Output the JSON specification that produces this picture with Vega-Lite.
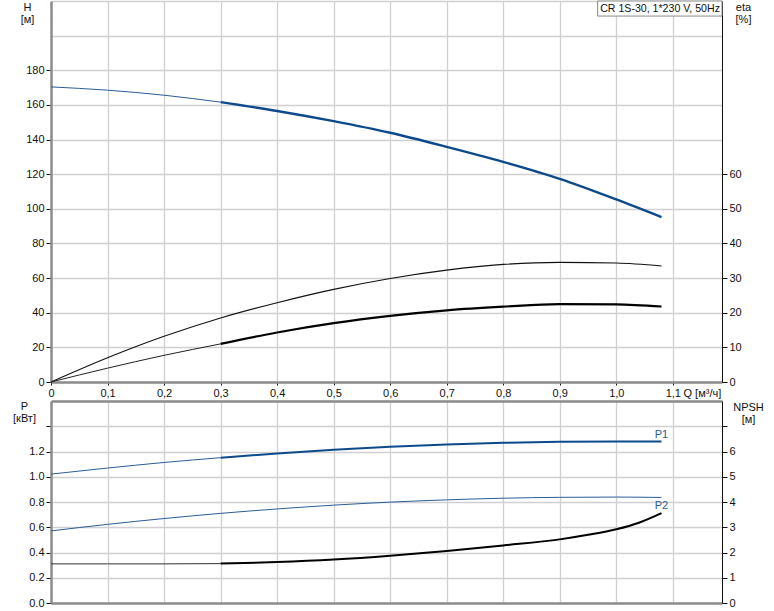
{
  "$schema": "https://vega.github.io/schema/vega-lite/v6.json",
  "padding": {"left": 12, "top": 0, "right": 0, "bottom": 0},
  "autosize": {"type": "pad"},
  "bounds": "flush",
  "spacing": 19,
  "background": "white",
  "config": {
    "view": {"stroke": null},
    "axis": {
      "labelFont": "Liberation Sans", "labelFontSize": 11, "labelColor": "#111111",
      "titleFont": "Liberation Sans", "titleFontSize": 11, "titleFontWeight": "normal", "titleColor": "#111111",
      "gridColor": "#d0d0d0", "gridWidth": 1.3, "tickColor": "#111111"
    },
    "text": {"font": "Liberation Sans", "fontSize": 11}
  },
  "datasets": {
    "pump": [
      {"series": "H", "Q": 0, "value": 170.4}, {"series": "H", "Q": 0.1, "value": 168.5}, {"series": "H", "Q": 0.2, "value": 165.6},
      {"series": "H", "Q": 0.3, "value": 161.6}, {"series": "H", "Q": 0.4, "value": 156.5}, {"series": "H", "Q": 0.5, "value": 150.6},
      {"series": "H", "Q": 0.6, "value": 143.9}, {"series": "H", "Q": 0.7, "value": 135.8}, {"series": "H", "Q": 0.8, "value": 127.1},
      {"series": "H", "Q": 0.9, "value": 117.3}, {"series": "H", "Q": 1.0, "value": 105.4}, {"series": "H", "Q": 1.08, "value": 95.2},
      {"series": "eta1", "Q": 0, "value": 0}, {"series": "eta1", "Q": 0.1, "value": 7.0}, {"series": "eta1", "Q": 0.2, "value": 13.2},
      {"series": "eta1", "Q": 0.3, "value": 18.5}, {"series": "eta1", "Q": 0.4, "value": 22.9}, {"series": "eta1", "Q": 0.5, "value": 26.75},
      {"series": "eta1", "Q": 0.6, "value": 29.9}, {"series": "eta1", "Q": 0.7, "value": 32.3}, {"series": "eta1", "Q": 0.8, "value": 33.95},
      {"series": "eta1", "Q": 0.9, "value": 34.55}, {"series": "eta1", "Q": 1.0, "value": 34.35}, {"series": "eta1", "Q": 1.08, "value": 33.5},
      {"series": "eta2", "Q": 0, "value": 0}, {"series": "eta2", "Q": 0.1, "value": 4.0}, {"series": "eta2", "Q": 0.2, "value": 7.7},
      {"series": "eta2", "Q": 0.3, "value": 11.0}, {"series": "eta2", "Q": 0.4, "value": 14.3}, {"series": "eta2", "Q": 0.5, "value": 17.0},
      {"series": "eta2", "Q": 0.6, "value": 19.1}, {"series": "eta2", "Q": 0.7, "value": 20.7}, {"series": "eta2", "Q": 0.8, "value": 21.75},
      {"series": "eta2", "Q": 0.9, "value": 22.5}, {"series": "eta2", "Q": 1.0, "value": 22.4}, {"series": "eta2", "Q": 1.08, "value": 21.8}
    ],
    "power": [
      {"series": "P1", "Q": 0, "value": 1.021}, {"series": "P1", "Q": 0.1, "value": 1.069}, {"series": "P1", "Q": 0.2, "value": 1.113},
      {"series": "P1", "Q": 0.3, "value": 1.151}, {"series": "P1", "Q": 0.4, "value": 1.185}, {"series": "P1", "Q": 0.5, "value": 1.213},
      {"series": "P1", "Q": 0.6, "value": 1.237}, {"series": "P1", "Q": 0.7, "value": 1.255}, {"series": "P1", "Q": 0.8, "value": 1.269},
      {"series": "P1", "Q": 0.9, "value": 1.277}, {"series": "P1", "Q": 1.0, "value": 1.28}, {"series": "P1", "Q": 1.08, "value": 1.28},
      {"series": "P2", "Q": 0, "value": 0.571}, {"series": "P2", "Q": 0.1, "value": 0.623}, {"series": "P2", "Q": 0.2, "value": 0.669},
      {"series": "P2", "Q": 0.3, "value": 0.71}, {"series": "P2", "Q": 0.4, "value": 0.745}, {"series": "P2", "Q": 0.5, "value": 0.775},
      {"series": "P2", "Q": 0.6, "value": 0.799}, {"series": "P2", "Q": 0.7, "value": 0.817}, {"series": "P2", "Q": 0.8, "value": 0.83},
      {"series": "P2", "Q": 0.9, "value": 0.837}, {"series": "P2", "Q": 1.0, "value": 0.839}, {"series": "P2", "Q": 1.08, "value": 0.836},
      {"series": "NPSH", "Q": 0, "value": 1.55}, {"series": "NPSH", "Q": 0.1, "value": 1.55}, {"series": "NPSH", "Q": 0.2, "value": 1.55},
      {"series": "NPSH", "Q": 0.3, "value": 1.56}, {"series": "NPSH", "Q": 0.4, "value": 1.62}, {"series": "NPSH", "Q": 0.5, "value": 1.72},
      {"series": "NPSH", "Q": 0.6, "value": 1.87}, {"series": "NPSH", "Q": 0.7, "value": 2.06}, {"series": "NPSH", "Q": 0.8, "value": 2.28},
      {"series": "NPSH", "Q": 0.9, "value": 2.52}, {"series": "NPSH", "Q": 0.95, "value": 2.7}, {"series": "NPSH", "Q": 1.0, "value": 2.92},
      {"series": "NPSH", "Q": 1.04, "value": 3.18}, {"series": "NPSH", "Q": 1.08, "value": 3.56}
    ],
    "legend": [{"label": "CR 1S-30, 1*230 V, 50Hz"}]
  },
  "vconcat": [
    {
      "width": 671,
      "height": 381,
      "layer": [
        {
          "data": {"name": "pump"},
          "encoding": {
            "x": {
              "field": "Q", "type": "quantitative",
              "scale": {"domain": [0, 1.187], "nice": false, "zero": false},
              "axis": {
                "values": [0, 0.1, 0.2, 0.3, 0.4, 0.5, 0.6, 0.7, 0.8, 0.9, 1.0, 1.1],
                "labelExpr": "datum.value == 0 ? '0' : replace(format(datum.value, '.1f'), '.', ',')",
                "labelFlush": false, "labelOverlap": false,
                "grid": true, "tickSize": 3, "labelPadding": 2,
                "domainColor": "#8c8c8c", "domainWidth": 2.5,
                "title": "Q [м³/ч]", "titleAngle": 0, "titleAlign": "left", "titleBaseline": "top",
                "titleX": 632, "titleY": 5
              }
            },
            "y": {
              "field": "value", "type": "quantitative",
              "scale": {"domain": [0, 220], "nice": false, "zero": false},
              "axis": {
                "values": [0, 20, 40, 60, 80, 100, 120, 140, 160, 180, 200, 220],
                "labelExpr": "datum.value <= 180 ? datum.label : ''",
                "tickColor": {"condition": {"test": "datum.value > 180", "value": "transparent"}, "value": "#111111"},
                "grid": true, "tickSize": 5, "labelPadding": 2,
                "domainColor": "#8c8c8c", "domainWidth": 2.5,
                "title": ["H", "[м]"], "titleAngle": 0, "titleAlign": "center", "titleBaseline": "top",
                "titleX": -24, "titleY": 0, "titleLineHeight": 12
              }
            }
          },
          "layer": [
            {
              "transform": [{"filter": "datum.series == 'H' && datum.Q <= 0.3"}],
              "mark": {"type": "line", "interpolate": "monotone", "color": "#2a5d95", "strokeWidth": 1}
            },
            {
              "transform": [{"filter": "datum.series == 'H' && datum.Q >= 0.3"}],
              "mark": {"type": "line", "interpolate": "monotone", "color": "#0d4a8c", "strokeWidth": 2.4}
            }
          ]
        },
        {
          "data": {"name": "pump"},
          "encoding": {
            "x": {
              "field": "Q", "type": "quantitative",
              "scale": {"domain": [0, 1.187], "nice": false, "zero": false}
            },
            "y": {
              "field": "value", "type": "quantitative",
              "scale": {"domain": [0, 110], "nice": false, "zero": false},
              "axis": {
                "orient": "right",
                "values": [0, 10, 20, 30, 40, 50, 60],
                "grid": false, "tickSize": 5, "labelPadding": 2,
                "domainColor": "#111111", "domainWidth": 1,
                "title": ["eta", "[%]"], "titleAngle": 0, "titleAlign": "center", "titleBaseline": "top",
                "titleX": 21, "titleY": 0, "titleLineHeight": 12
              }
            }
          },
          "layer": [
            {
              "transform": [{"filter": "datum.series == 'eta1'"}],
              "mark": {"type": "line", "interpolate": "monotone", "color": "#111111", "strokeWidth": 1.1}
            },
            {
              "transform": [{"filter": "datum.series == 'eta2' && datum.Q <= 0.3"}],
              "mark": {"type": "line", "interpolate": "monotone", "color": "#222222", "strokeWidth": 1}
            },
            {
              "transform": [{"filter": "datum.series == 'eta2' && datum.Q >= 0.3"}],
              "mark": {"type": "line", "interpolate": "monotone", "color": "#000000", "strokeWidth": 2.2}
            }
          ]
        },
        {
          "data": {"name": "legend"},
          "layer": [
            {
              "mark": {"type": "rect", "fill": "white", "stroke": "#8a8a8a", "strokeWidth": 1},
              "encoding": {
                "x": {"datum": 0.967, "type": "quantitative", "scale": {"domain": [0, 1.187], "nice": false, "zero": false}},
                "x2": {"datum": 1.187},
                "y": {"datum": 220, "type": "quantitative", "scale": {"domain": [0, 220], "nice": false, "zero": false}, "axis": null},
                "y2": {"datum": 211.3}
              }
            },
            {
              "mark": {"type": "text", "align": "left", "baseline": "middle", "color": "#111111", "fontSize": 10.6},
              "encoding": {
                "x": {"datum": 0.9715, "type": "quantitative", "scale": {"domain": [0, 1.187], "nice": false, "zero": false}},
                "y": {"datum": 215.6, "type": "quantitative", "scale": {"domain": [0, 220], "nice": false, "zero": false}, "axis": null},
                "text": {"field": "label", "type": "nominal"}
              }
            }
          ]
        }
      ],
      "resolve": {"scale": {"y": "independent"}, "axis": {"y": "independent"}}
    },
    {
      "width": 671,
      "height": 202,
      "data": {"name": "power"},
      "layer": [
        {
          "encoding": {
            "x": {
              "field": "Q", "type": "quantitative",
              "scale": {"domain": [0, 1.187], "nice": false, "zero": false},
              "axis": {
                "values": [0, 0.1, 0.2, 0.3, 0.4, 0.5, 0.6, 0.7, 0.8, 0.9, 1.0, 1.1],
                "grid": true, "labels": false, "ticks": false,
                "domainColor": "#8c8c8c", "domainWidth": 2.5, "title": null
              }
            },
            "y": {
              "field": "value", "type": "quantitative",
              "scale": {"domain": [0, 1.6], "nice": false, "zero": false},
              "axis": {
                "values": [0, 0.2, 0.4, 0.6, 0.8, 1.0, 1.2, 1.4, 1.6],
                "labelExpr": "datum.value <= 1.2 ? format(datum.value, '.1f') : ''",
                "tickColor": {"condition": {"test": "datum.value > 1.5", "value": "transparent"}, "value": "#111111"},
                "grid": true, "tickSize": 5, "labelPadding": 2,
                "domainColor": "#8c8c8c", "domainWidth": 2.5,
                "title": ["P", "[кВт]"], "titleAngle": 0, "titleAlign": "center", "titleBaseline": "top",
                "titleX": -27, "titleY": -1, "titleLineHeight": 12
              }
            }
          },
          "layer": [
            {
              "transform": [{"filter": "datum.series == 'P1' && datum.Q <= 0.3"}],
              "mark": {"type": "line", "interpolate": "monotone", "color": "#2a5d95", "strokeWidth": 1}
            },
            {
              "transform": [{"filter": "datum.series == 'P1' && datum.Q >= 0.3"}],
              "mark": {"type": "line", "interpolate": "monotone", "color": "#0d4a8c", "strokeWidth": 2}
            },
            {
              "transform": [{"filter": "datum.series == 'P2'"}],
              "mark": {"type": "line", "interpolate": "monotone", "color": "#2a5d95", "strokeWidth": 1}
            },
            {
              "transform": [{"filter": "datum.series == 'P1' && datum.Q == 1.08"}],
              "mark": {"type": "text", "align": "center", "baseline": "bottom", "dy": -1, "color": "#2a5d95", "fontSize": 11},
              "encoding": {"text": {"field": "series"}}
            },
            {
              "transform": [{"filter": "datum.series == 'P2' && datum.Q == 1.08"}],
              "mark": {"type": "text", "align": "center", "baseline": "top", "dy": 3, "color": "#2a5d95", "fontSize": 11},
              "encoding": {"text": {"field": "series"}}
            }
          ]
        },
        {
          "encoding": {
            "x": {
              "field": "Q", "type": "quantitative",
              "scale": {"domain": [0, 1.187], "nice": false, "zero": false},
              "axis": {
                "orient": "top", "grid": false, "labels": false, "ticks": false,
                "domainColor": "#8c8c8c", "domainWidth": 2.5, "title": null
              }
            },
            "y": {
              "field": "value", "type": "quantitative",
              "scale": {"domain": [0, 8], "nice": false, "zero": false},
              "axis": {
                "orient": "right",
                "values": [0, 1, 2, 3, 4, 5, 6, 7, 8],
                "labelExpr": "datum.value <= 6 ? datum.label : ''",
                "tickColor": {"condition": {"test": "datum.value > 7.5", "value": "transparent"}, "value": "#111111"},
                "grid": false, "tickSize": 5, "labelPadding": 2,
                "domainColor": "#111111", "domainWidth": 1,
                "title": ["NPSH", "[м]"], "titleAngle": 0, "titleAlign": "center", "titleBaseline": "top",
                "titleX": 26, "titleY": 0, "titleLineHeight": 12
              }
            }
          },
          "layer": [
            {
              "transform": [{"filter": "datum.series == 'NPSH' && datum.Q <= 0.3"}],
              "mark": {"type": "line", "interpolate": "monotone", "color": "#333333", "strokeWidth": 1}
            },
            {
              "transform": [{"filter": "datum.series == 'NPSH' && datum.Q >= 0.3"}],
              "mark": {"type": "line", "interpolate": "monotone", "color": "#000000", "strokeWidth": 2}
            }
          ]
        }
      ],
      "resolve": {"scale": {"y": "independent"}, "axis": {"y": "independent", "x": "independent"}}
    }
  ]
}
